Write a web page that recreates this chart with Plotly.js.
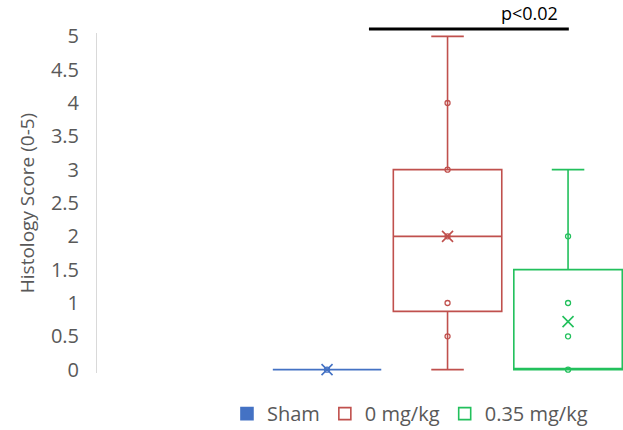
<!DOCTYPE html>
<html>
<head>
<meta charset="utf-8">
<script src="https://cdn.plot.ly/plotly-3.0.1.min.js"></script>
<style>html,body{margin:0;padding:0;background:#fff;}#chart{width:623px;height:430px;}</style>
</head>
<body>
<div id="chart"></div>
<script>
// ---- data ----
const groups = ["Sham", "0 mg/kg", "0.35 mg/kg"];
const groupPos = [0, 1, 2];
const colors = ["#4472C4", "#C0504D", "#22C05C"];
const lowerFence = [0, 0, 0];
const q1 = [0, 0.875, 0];
const median = [0, 2, 0];
const q3 = [0, 3, 1.5];
const upperFence = [0, 5, 3];
const means = [0, 2, 0.72];
const shamPoints = [0];
const zeroPoints = [0.5, 1, 2, 3, 4];
const dosePoints = [0, 0.5, 1, 2];
const yTicks = [0, 0.5, 1, 1.5, 2, 2.5, 3, 3.5, 4, 4.5, 5];
const yTickText = ["0", "0.5", "1", "1.5", "2", "2.5", "3", "3.5", "4", "4.5", "5"];
const pText = "p<0.02";
const yTitle = "Histology Score (0-5)";

const pointSets = [shamPoints, zeroPoints, dosePoints];
const FONT = "Open Sans, Noto Sans, sans-serif";

const traces = [];
groups.forEach((g, i) => {
  traces.push({
    type: "box",
    name: g,
    x: [groupPos[i]],
    q1: [q1[i]], median: [median[i]], q3: [q3[i]],
    lowerfence: [lowerFence[i]], upperfence: [upperFence[i]],
    width: 0.9,
    whiskerwidth: 0.3,
    line: {color: colors[i], width: 1.6},
    fillcolor: i === 0 ? colors[0] : "rgba(0,0,0,0)",
    boxpoints: false,
    hoverinfo: "skip",
    showlegend: true
  });
});
groups.forEach((g, i) => {
  traces.push({
    type: "scatter", mode: "markers",
    x: pointSets[i].map(() => groupPos[i]),
    y: pointSets[i],
    marker: {symbol: "circle-open", size: 5, color: colors[i], line: {width: 1.3, color: colors[i]}},
    showlegend: false, hoverinfo: "skip", cliponaxis: false
  });
  traces.push({
    type: "scatter", mode: "markers",
    x: [groupPos[i]], y: [means[i]],
    marker: {symbol: "x-thin-open", size: 11, color: colors[i], line: {width: 1.6, color: colors[i]}},
    showlegend: false, hoverinfo: "skip", cliponaxis: false
  });
});

const layout = {
  width: 623, height: 430,
  margin: {l: 97, r: 0, t: 33, b: 57, pad: 0, autoexpand: false},
  paper_bgcolor: "#ffffff", plot_bgcolor: "#ffffff",
  font: {family: FONT, color: "#595959", size: 20},
  showlegend: true,
  legend: {
    orientation: "h", x: 0.595, xanchor: "center", y: -0.062, yanchor: "top",
    font: {family: FONT, size: 20, color: "#595959"},
    itemclick: false, itemdoubleclick: false, itemwidth: 30,
    borderwidth: 0, tracegroupgap: 0
  },
  xaxis: {
    range: [-1.909, 2.456], visible: false, fixedrange: true
  },
  yaxis: {
    range: [-0.05, 5.05],
    tickvals: yTicks, ticktext: yTickText,
    showgrid: false, zeroline: false,
    showline: true, linecolor: "#D9D9D9", linewidth: 1,
    ticks: "", ticklabelstandoff: 13,
    tickfont: {family: FONT, size: 20, color: "#595959"},
    title: {text: yTitle, font: {family: FONT, size: 19, color: "#595959"}, standoff: 11},
    automargin: false, fixedrange: true
  },
  shapes: [{
    type: "line", xref: "paper", yref: "paper",
    x0: 0.517, x1: 0.897, y0: 1.0118, y1: 1.0118,
    line: {color: "#000000", width: 3}
  }],
  annotations: [{
    text: pText, xref: "paper", yref: "paper",
    x: 0.823, y: 1.059, xanchor: "center", yanchor: "middle",
    showarrow: false, font: {family: FONT, size: 18, color: "#000000"}
  }]
};

Plotly.newPlot("chart", traces, layout, {displayModeBar: false, staticPlot: true});
</script>
</body>
</html>
